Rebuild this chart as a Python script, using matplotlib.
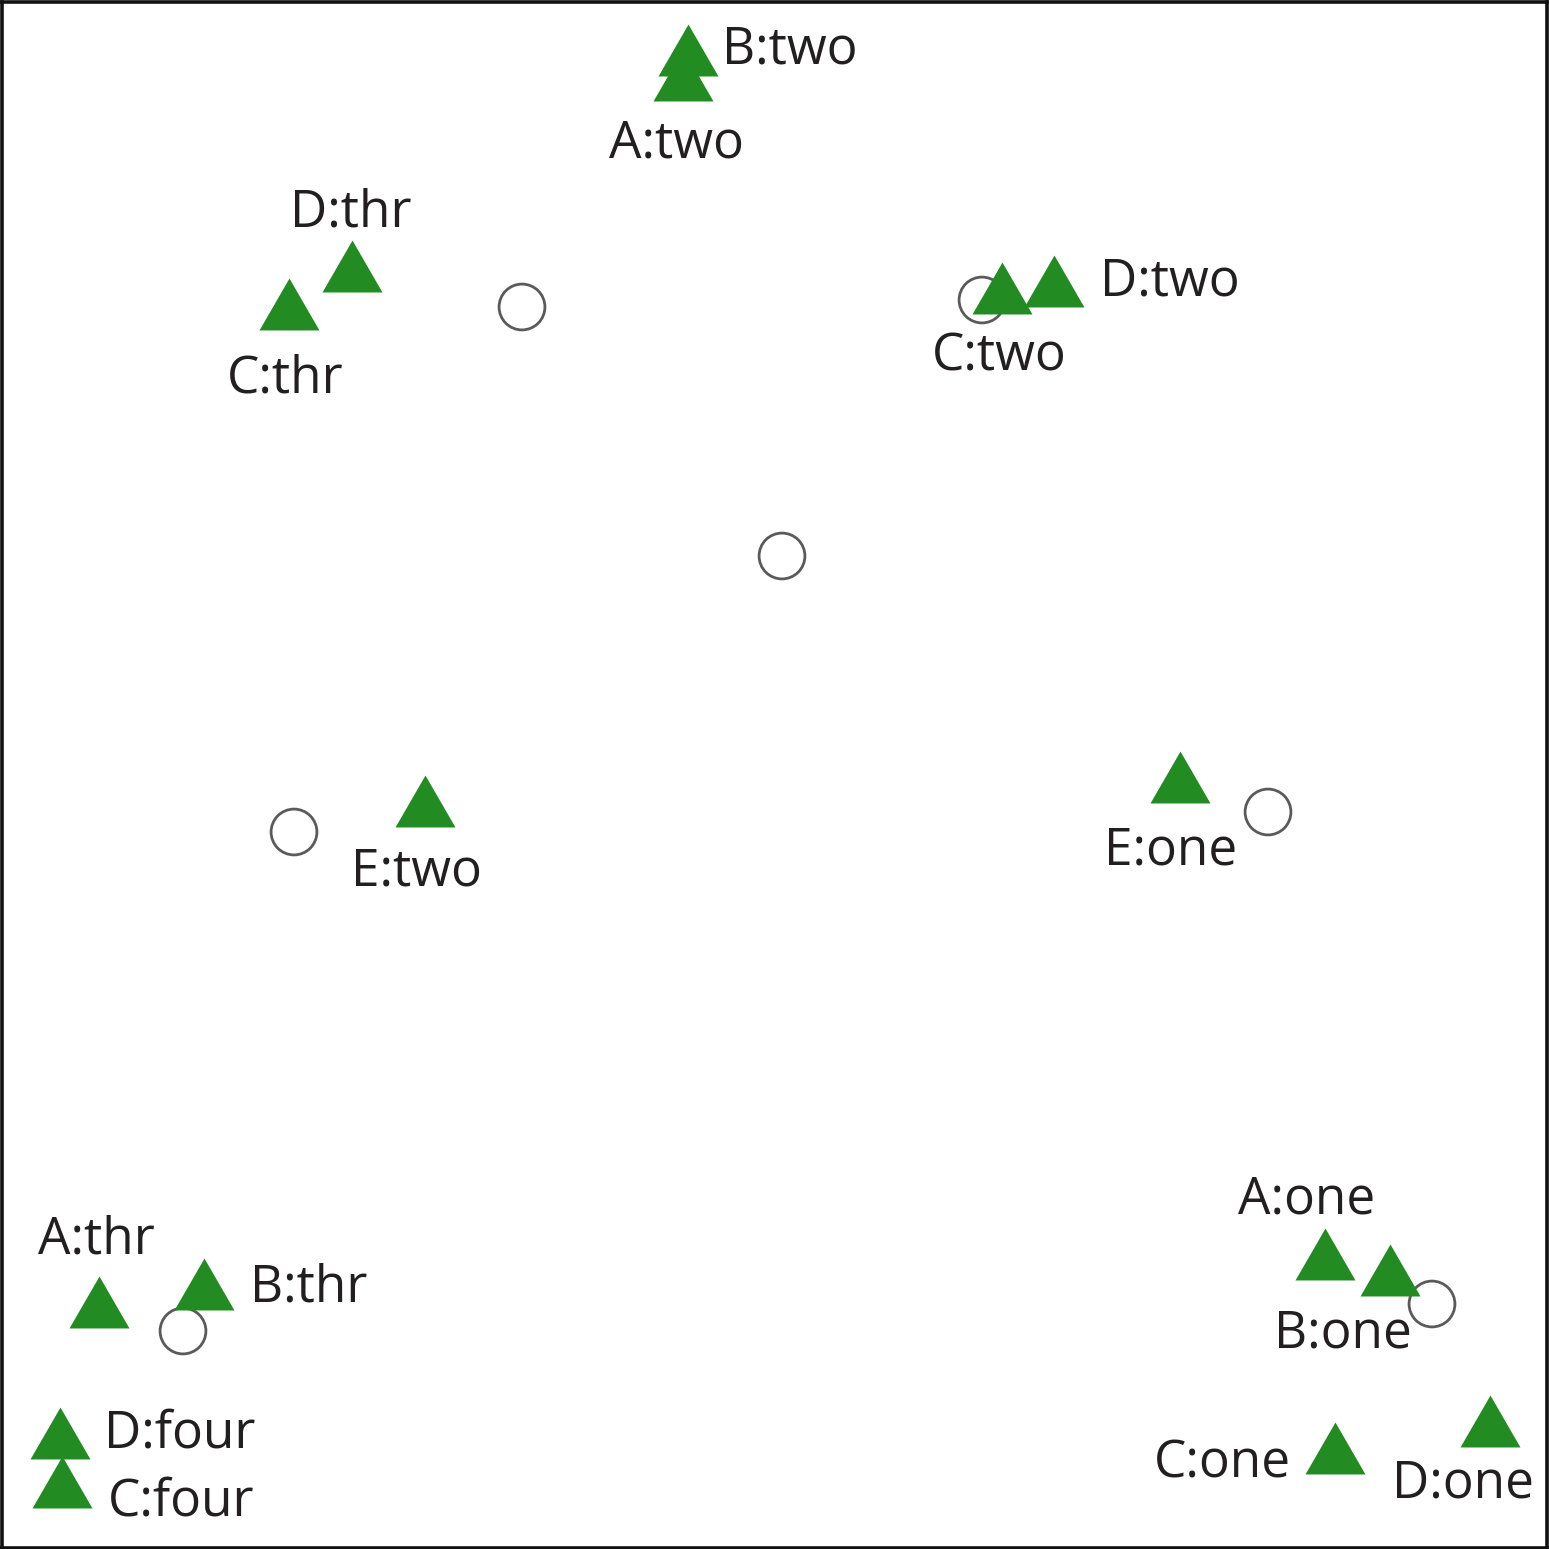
import matplotlib
matplotlib.use("Agg")
from matplotlib import pyplot as plt
from matplotlib.path import Path

# posicoes dos triangulos (coordenadas do grafico, y cresce para baixo)
rotulos = ["B:two", "A:two", "D:thr", "C:thr", "C:two", "D:two", "E:two", "E:one",
           "A:one", "B:one", "A:thr", "B:thr", "D:four", "C:four", "C:one", "D:one"]
tri_x = [688, 683, 352, 289, 1002, 1054, 425, 1180,
         1325, 1390, 99, 204, 60, 62, 1335, 1490]
tri_y = [50, 75, 266, 304, 288, 281, 801, 777,
         1254, 1270, 1302, 1284, 1433, 1482, 1448, 1421]

# centros (circulos abertos)
centro_x = [522, 982, 782, 294, 1268, 183, 1432]
centro_y = [307, 300, 556, 832, 812, 1331, 1304]

# deslocamento dos rotulos em pixels (dx, dy para baixo) e alinhamento
desloc = [(34, 13), (-7, 82), (-1, -40), (-4, 88), (-3, 82), (46, 14), (-9, 84), (-9, 87),
          (-18, -41), (-47, 77), (-3, -48), (46, 18), (44, 15), (46, 34), (-44, 30), (-27, 77)]
alinh = ["left", "center", "center", "center", "center", "left", "center", "center",
         "center", "center", "center", "left", "left", "left", "right", "center"]

DPI = 100
LADO = 1549

fig = plt.figure(figsize=(LADO / DPI, LADO / DPI), dpi=DPI)
m = 1.5 / LADO
ax = fig.add_axes([m, m, 1 - 2 * m, 1 - 2 * m])
ax.set_xlim(1.5, 1547.5)
ax.set_ylim(1547.5, 1.5)
ax.set_xticks([])
ax.set_yticks([])
for s in ax.spines.values():
    s.set_linewidth(2.6)
    s.set_color("#111111")

# triangulo equilatero
triangulo = Path([(-1, -0.866), (1, -0.866), (0, 0.866), (-1, -0.866)],
                 [Path.MOVETO, Path.LINETO, Path.LINETO, Path.CLOSEPOLY])

ax.scatter(centro_x, centro_y, s=33**2, facecolors="none", edgecolors="#5a5a5a",
           linewidths=2.0, zorder=2)
ax.scatter(tri_x, tri_y, s=43.2**2, marker=triangulo, color="#228B22",
           linewidths=0, zorder=3)

for rot, x, y, (dx, dy), ha in zip(rotulos, tri_x, tri_y, desloc, alinh):
    ax.annotate(rot, (x, y), xytext=(dx, -dy), textcoords="offset pixels",
                ha=ha, va="baseline", fontsize=37, family="Open Sans",
                color="#231F20", zorder=4)

fig.savefig("out.png", dpi=DPI)
